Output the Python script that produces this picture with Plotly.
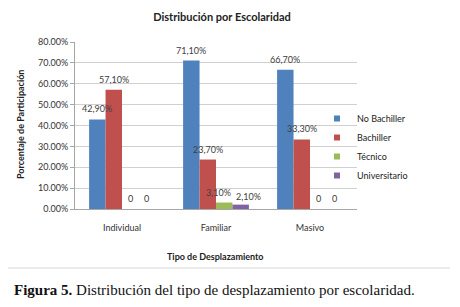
import plotly.graph_objects as go

categories = ["Individual", "Familiar", "Masivo"]
series_names = ["No Bachiller", "Bachiller", "Técnico", "Universitario"]
no_bachiller = [0.429, 0.711, 0.667]
bachiller = [0.571, 0.237, 0.333]
tecnico = [0.0, 0.031, 0.0]
universitario = [0.0, 0.021, 0.0]
colors = ["#4F81BD", "#C0504D", "#9BBB59", "#8064A2"]

def fmt(v):
    if v == 0:
        return "0"
    return ("%.2f%%" % (v * 100)).replace(".", ",")

FONT = "Lato, Liberation Sans, sans-serif"

# page body has an 8px default margin; lay out in page pixels minus that offset
OFF = 8
W, H = 460 - OFF, 307 - OFF
PX0, PX1, PY0, PY1 = 75, 357, 42, 209  # plot area in page pixels
L = PX0 - OFF
R = W - (PX1 - OFF)
T = PY0 - OFF
B = H - (PY1 - OFF)
ph = H - T - B
pw = W - L - R
BARGAP = 0.3
bar_px = pw / len(categories) * (1 - BARGAP) / len(series_names)

def py(y):
    return (PY1 - y) / ph

def px(x):
    return (x - PX0) / pw

# small label nudges (px) to avoid overlaps, like the original
nudge = {(2, 1): (-6, 0), (3, 1): (8, -2)}

fig = go.Figure()
annots = []
all_vals = [no_bachiller, bachiller, tecnico, universitario]
for si, (name, vals, col) in enumerate(zip(series_names, all_vals, colors)):
    fig.add_trace(go.Bar(
        name=name, x=categories, y=vals, marker_color=col,
        marker_line_width=0, showlegend=False,
    ))
    for ci, (cat, v) in enumerate(zip(categories, vals)):
        dx, dy = nudge.get((si, ci), (0, 0))
        annots.append(dict(
            x=cat, y=v, xref="x", yref="y", text=fmt(v), showarrow=False,
            xanchor="center", yanchor="bottom",
            xshift=(si - 1.5) * bar_px + dx, yshift=3 + dy,
            font=dict(family=FONT, size=9, color="#404040"),
        ))
for name, col in zip(series_names, colors):
    fig.add_trace(go.Scatter(
        name=name, x=[None], y=[None], mode="markers",
        marker=dict(symbol="square", size=6, color=col), showlegend=True,
    ))

annots += [
    dict(text="<b>Porcentaje de Participación</b>", textangle=-90, xref="paper", yref="paper",
         x=px(20), y=py(125), xanchor="center", yanchor="middle",
         showarrow=False, font=dict(size=9, color="#222222")),
    dict(text="<b>Tipo de Desplazamiento</b>", xref="paper", yref="paper",
         x=px(215), y=py(256), xanchor="center", yanchor="middle",
         showarrow=False, font=dict(size=9, color="#222222")),
    dict(text="<b>Figura 5.</b> Distribución del tipo de desplazamiento por escolaridad.",
         xref="paper", yref="paper", x=px(12), y=py(290),
         xanchor="left", yanchor="middle", showarrow=False,
         font=dict(family="Liberation Serif, DejaVu Serif, serif", size=15, color="#111111")),
]

fig.update_layout(
    width=W, height=H,
    margin=dict(l=L, r=R, t=T, b=B, autoexpand=False),
    paper_bgcolor="white", plot_bgcolor="white",
    barmode="group", bargap=BARGAP, bargroupgap=0,
    font=dict(family=FONT, size=9, color="#333333"),
    title=dict(text="<b>Distribución por Escolaridad</b>", x=(222 - OFF) / W, xanchor="center",
               y=1 - (17 - OFF) / H, yanchor="middle",
               font=dict(size=11, color="#222222")),
    legend=dict(x=px(317), xanchor="left", y=py(104), yanchor="top",
                font=dict(size=9, color="#222222"), bgcolor="rgba(0,0,0,0)",
                tracegroupgap=0, itemwidth=30),
    showlegend=True,
    xaxis=dict(showline=True, linecolor="#A6A6A6", linewidth=1, ticks="",
               ticklabelstandoff=10,
               tickfont=dict(size=9, color="#333333")),
    yaxis=dict(range=[0, 0.8], dtick=0.1, tickformat=".2%", showgrid=True,
               gridcolor="#D0D0D0", gridwidth=1, showline=True, linecolor="#A6A6A6",
               ticks="outside", ticklen=4, tickcolor="#A6A6A6",
               tickfont=dict(size=9, color="#333333"), zeroline=False),
    annotations=annots,
    shapes=[
        dict(type="line", xref="paper", yref="paper", x0=px(OFF), x1=px(450),
             y0=py(268), y1=py(268), line=dict(color="#D8D8D8", width=1)),
    ],
)

fig.write_html("out.html", config={"displayModeBar": False})
